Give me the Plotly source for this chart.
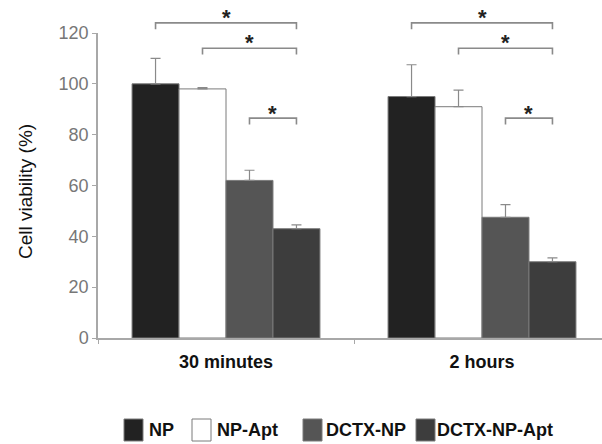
import plotly.graph_objects as go

# ---------------- data ----------------
categories = ["30 minutes", "2 hours"]
series_names = ["NP", "NP-Apt", "DCTX-NP", "DCTX-NP-Apt"]
np_vals = [100, 95]
np_apt_vals = [98, 91]
dctx_np_vals = [62, 47.5]
dctx_np_apt_vals = [43, 30]
np_err = [10, 12.5]
np_apt_err = [0.5, 6.5]
dctx_np_err = [4, 5]
dctx_np_apt_err = [1.5, 1.5]
# significance brackets: (left series, right series, bracket height, end height, star height)
sig_pairs = [(0, 3, 124, 121.5, 128.5), (1, 3, 114, 111.5, 118.5), (2, 3, 86.5, 84, 90.5)]
y_ticks = [0, 20, 40, 60, 80, 100, 120]

values = [np_vals, np_apt_vals, dctx_np_vals, dctx_np_apt_vals]
errors = [np_err, np_apt_err, dctx_np_err, dctx_np_apt_err]

# ---------------- style ----------------
fills = ["#222222", "#ffffff", "#555555", "#3d3d3d"]
outline = "#7a7a7a"
W, H = 602, 444
ML, MR, MT, MB = 98, 0, 33, 106
BARGAP = 0.266
YMAX = 120
plot_w = W - ML - MR
plot_h = H - MT - MB
FONT = "Liberation Sans, Arial"

def px_x(px):
    return (px - ML) / plot_w

def px_y(py):
    return (H - MB - py) / plot_h

fig = go.Figure()
for name, vals, errs, col in zip(series_names, values, errors, fills):
    fig.add_trace(go.Bar(
        x=categories, y=vals, name=name,
        marker=dict(color=col, line=dict(color=outline, width=1)),
        error_y=dict(type="data", array=errs, arrayminus=[0] * len(errs),
                     symmetric=False, color="#8a8a8a", thickness=1.2, width=5),
        showlegend=False,
    ))

shapes = []
annotations = []
barw = (1 - BARGAP) / len(series_names)

def bar_center(g, i):
    return g + (i - (len(series_names) - 1) / 2) * barw

line_style = dict(color="#8a8a8a", width=1.6)
for g in range(len(categories)):
    for li, ri, yb, ye, ys in sig_pairs:
        x0 = bar_center(g, li)
        x1 = bar_center(g, ri)
        path = (f"M {x0},{ye / YMAX} L {x0},{yb / YMAX} "
                f"L {x1},{yb / YMAX} L {x1},{ye / YMAX}")
        shapes.append(dict(type="path", path=path, xref="x", yref="paper",
                           line=line_style))
        annotations.append(dict(x=(x0 + x1) / 2, y=ys / YMAX, xref="x", yref="paper",
                                text="<b>*</b>", showarrow=False,
                                font=dict(size=22, color="#222", family=FONT),
                                xanchor="center", yanchor="middle", yshift=-6))

# y-axis title
annotations.append(dict(x=px_x(25), y=px_y(192), xref="paper", yref="paper",
                        text="Cell viability (%)", textangle=-90, showarrow=False,
                        font=dict(size=19, color="#111", family=FONT),
                        xanchor="center", yanchor="middle"))

# manual legend
sq_x = [124, 192, 303, 416]
txt_x = [147, 215, 324, 435]
sq_w = 19
sq_top, sq_bot = 419, 441
for name, col, sx, tx in zip(series_names, fills, sq_x, txt_x):
    shapes.append(dict(type="rect", xref="paper", yref="paper",
                       x0=px_x(sx), x1=px_x(sx + sq_w), y0=px_y(sq_bot), y1=px_y(sq_top),
                       fillcolor=col, line=dict(color=outline, width=1)))
    annotations.append(dict(x=px_x(tx), y=px_y(430), xref="paper", yref="paper",
                            text=f"<b>{name}</b>", showarrow=False,
                            font=dict(size=18, color="#111", family=FONT),
                            xanchor="left", yanchor="middle"))

fig.update_layout(
    width=W, height=H,
    margin=dict(l=ML, r=MR, t=MT, b=MB, pad=0),
    paper_bgcolor="white", plot_bgcolor="white",
    barmode="group", bargap=BARGAP, bargroupgap=0,
    shapes=shapes, annotations=annotations,
    showlegend=False,
    font=dict(family=FONT, size=18),
)
fig.update_xaxes(
    type="category", range=[-0.5, -0.5 + plot_w / 256.0],
    showline=True, linecolor="#a8a8a8", linewidth=2,
    ticks="outside", tickson="boundaries", ticklen=4, tickcolor="#a8a8a8",
    tickfont=dict(size=18, color="#111", family=FONT),
    ticktext=[f"<b>{c}</b>" for c in categories], tickvals=categories,
    ticklabelstandoff=6,
    showgrid=False, zeroline=False,
)
fig.update_yaxes(
    range=[0, YMAX], tickvals=y_ticks,
    showline=True, linecolor="#a8a8a8", linewidth=1.5,
    ticks="outside", ticklen=4, tickcolor="#a8a8a8",
    tickfont=dict(size=18, color="#777", family=FONT),
    showgrid=False, zeroline=False,
)

fig.write_html("out.html", config={"displayModeBar": False},
               post_script="document.body.style.margin='0';document.body.style.overflow='hidden';")
